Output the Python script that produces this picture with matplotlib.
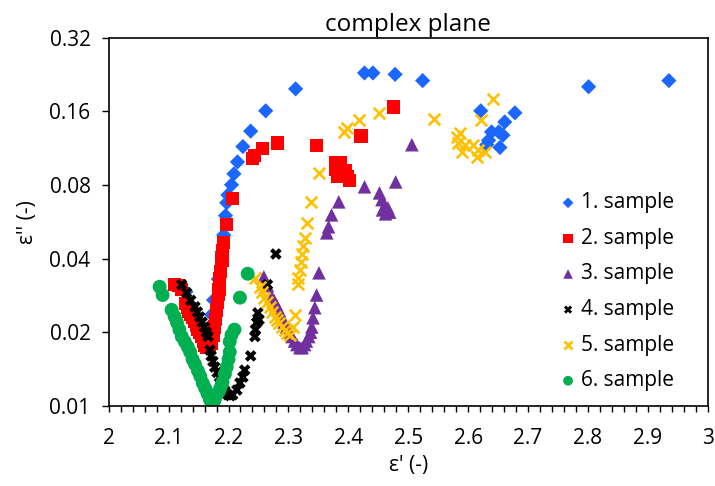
import numpy as np
import matplotlib
matplotlib.use("Agg")
import matplotlib.pyplot as plt
from matplotlib.ticker import MultipleLocator, FixedLocator, FormatStrFormatter

plt.rcParams['font.family'] = ['Open Sans', 'DejaVu Sans']

# eps' / eps'' pairs for each sample
x1 = [2.197, 2.199, 2.205, 2.209, 2.215, 2.224, 2.237, 2.262, 2.312, 2.427, 2.441, 2.478,
      2.524, 2.801, 2.935, 2.621, 2.678, 2.661, 2.651, 2.658, 2.639, 2.634, 2.631, 2.653,
      2.189, 2.175, 2.172, 2.129, 2.183, 2.192, 2.195]
y1 = [0.0677, 0.0729, 0.0802, 0.0889, 0.0995, 0.115, 0.133, 0.161, 0.198, 0.230, 0.230, 0.227,
      0.214, 0.202, 0.214, 0.161, 0.158, 0.145, 0.132, 0.128, 0.132, 0.122, 0.117, 0.114,
      0.0426, 0.0271, 0.0236, 0.0293, 0.033, 0.050, 0.060]

x2 = [2.110, 2.117, 2.122, 2.128, 2.131, 2.134, 2.137, 2.140, 2.143, 2.146, 2.149, 2.152,
      2.155, 2.158, 2.160, 2.164, 2.168, 2.172, 2.174, 2.176, 2.178, 2.180, 2.182, 2.183,
      2.184, 2.185, 2.187, 2.189, 2.190, 2.192, 2.197, 2.207, 2.240, 2.244, 2.257, 2.282,
      2.347, 2.421, 2.476, 2.379, 2.387, 2.379, 2.391, 2.399, 2.402, 2.382, 2.395]
y2 = [0.0313, 0.0310, 0.0300, 0.0262, 0.0252, 0.0244, 0.0236, 0.0229, 0.0222, 0.0214, 0.0206, 0.0199,
      0.0192, 0.0184, 0.0176, 0.0174, 0.0176, 0.0180, 0.0195, 0.0210, 0.0226, 0.0245, 0.0265, 0.0285,
      0.0300, 0.0330, 0.0355, 0.0395, 0.0430, 0.0465, 0.0550, 0.0703, 0.103, 0.106, 0.1125, 0.119,
      0.116, 0.127, 0.167, 0.0985, 0.0985, 0.0923, 0.0905, 0.087, 0.0832, 0.087, 0.092]

x3 = [2.259, 2.265, 2.272, 2.276, 2.280, 2.285, 2.289, 2.293, 2.297, 2.301, 2.306, 2.310,
      2.314, 2.319, 2.323, 2.327, 2.330, 2.334, 2.337, 2.339, 2.341, 2.344, 2.347, 2.351,
      2.364, 2.367, 2.372, 2.384, 2.427, 2.452, 2.456, 2.461, 2.466, 2.457, 2.469, 2.462,
      2.479, 2.506]
y3 = [0.0337, 0.0310, 0.0279, 0.0270, 0.0259, 0.0245, 0.0231, 0.0220, 0.0210, 0.0200, 0.0192, 0.0184,
      0.0178, 0.0173, 0.0173, 0.0178, 0.0184, 0.0192, 0.0200, 0.0210, 0.0229, 0.0252, 0.0284, 0.0350,
      0.0510, 0.0540, 0.0604, 0.0683, 0.0787, 0.0743, 0.0697, 0.0660, 0.0645, 0.0633, 0.0620, 0.0610,
      0.0824, 0.117]

x4 = [2.122, 2.130, 2.137, 2.144, 2.148, 2.152, 2.156, 2.160, 2.163, 2.166, 2.169, 2.171,
      2.174, 2.177, 2.181, 2.185, 2.188, 2.190, 2.194, 2.199, 2.203, 2.207, 2.214, 2.219,
      2.224, 2.227, 2.237, 2.245, 2.244, 2.247, 2.249, 2.251, 2.265, 2.279]
y4 = [0.0313, 0.0290, 0.0270, 0.0254, 0.0242, 0.0231, 0.0220, 0.0210, 0.0200, 0.0192, 0.0169, 0.0160,
      0.0152, 0.0144, 0.0137, 0.0131, 0.0125, 0.0120, 0.0115, 0.0111, 0.0110, 0.0111, 0.0116, 0.0124,
      0.0131, 0.0140, 0.0160, 0.0205, 0.0192, 0.0219, 0.0240, 0.0225, 0.0313, 0.0418]

x5 = [2.244, 2.252, 2.256, 2.260, 2.264, 2.269, 2.273, 2.277, 2.281, 2.285, 2.290, 2.294,
      2.298, 2.302, 2.307, 2.311, 2.316, 2.316, 2.319, 2.321, 2.322, 2.324, 2.327, 2.331,
      2.337, 2.351, 2.392, 2.397, 2.417, 2.451, 2.543, 2.581, 2.586, 2.583, 2.594, 2.589,
      2.608, 2.616, 2.614, 2.628, 2.621, 2.641]
y5 = [0.0334, 0.0307, 0.0292, 0.0277, 0.0265, 0.0254, 0.0242, 0.0231, 0.0225, 0.0219, 0.0211, 0.0205,
      0.0198, 0.0195, 0.0210, 0.0236, 0.0316, 0.0334, 0.0360, 0.0388, 0.0419, 0.0451, 0.0486, 0.0560,
      0.0683, 0.0897, 0.132, 0.137, 0.148, 0.158, 0.149, 0.126, 0.131, 0.119, 0.117, 0.109,
      0.117, 0.111, 0.104, 0.109, 0.147, 0.180]

x6 = [2.085, 2.090, 2.105, 2.110, 2.114, 2.118, 2.122, 2.127, 2.132, 2.136, 2.140, 2.144,
      2.149, 2.153, 2.157, 2.161, 2.165, 2.169, 2.172, 2.175, 2.177, 2.181, 2.185, 2.188,
      2.190, 2.194, 2.197, 2.200, 2.202, 2.202, 2.205, 2.210, 2.219, 2.232]
y6 = [0.0307, 0.0284, 0.0247, 0.0232, 0.0219, 0.0205, 0.0192, 0.0183, 0.0174, 0.0166, 0.0155, 0.0148,
      0.0139, 0.0132, 0.0124, 0.0118, 0.0112, 0.0106, 0.0101, 0.0104, 0.0106, 0.0112, 0.0116, 0.0121,
      0.0125, 0.0135, 0.0144, 0.0155, 0.0166, 0.0183, 0.0195, 0.0205, 0.0277, 0.0347]

labels = ['1. sample', '2. sample', '3. sample', '4. sample', '5. sample', '6. sample']
yticks = [0.01, 0.02, 0.04, 0.08, 0.16, 0.32]

fig = plt.figure(figsize=(7.15, 4.86), dpi=100)
ax = fig.add_axes([0.152, 0.165, 0.838, 0.757])

ax.scatter(x1, y1, marker='D', s=60, color='#1a66ff', edgecolors='none', label=labels[0])
ax.scatter(x2, y2, marker='s', s=90, color='#ff0000', edgecolors='none', label=labels[1])
ax.scatter(x3, y3, marker='^', s=95, color='#7030a0', edgecolors='none', label=labels[2])
ax.scatter(x4, y4, marker='X', s=70, color='black', edgecolors='none', label=labels[3])
ax.scatter(x5, y5, marker='x', s=70, color='#ffc000', linewidths=1.9, label=labels[4])
ax.scatter(x6, y6, marker='o', s=100, color='#00b050', edgecolors='none', label=labels[5])

ax.set_yscale('log', base=2)
ax.set_ylim(0.01, 0.32)
ax.yaxis.set_major_locator(FixedLocator(yticks))
ax.yaxis.set_major_formatter(FormatStrFormatter('%g'))
ax.yaxis.set_minor_locator(FixedLocator([]))

ax.set_xlim(2, 3)
ax.xaxis.set_major_locator(MultipleLocator(0.1))
ax.xaxis.set_minor_locator(MultipleLocator(0.02))
ax.xaxis.set_major_formatter(FormatStrFormatter('%g'))

for s in ax.spines.values():
    s.set_linewidth(1.2)
ax.tick_params(axis='both', which='both', direction='out', width=1.0, labelsize=15, colors='black')
ax.tick_params(axis='x', which='both', length=4)
ax.tick_params(axis='y', which='major', length=5, pad=8)
ax.tick_params(axis='x', which='major', pad=12)

ax.set_title('complex plane', fontsize=17.5, pad=5)
ax.set_xlabel("ε' (-)", fontsize=15, labelpad=4)
ax.set_ylabel("ε'' (-)", fontsize=15, labelpad=8)

ax.legend(loc='center left', bbox_to_anchor=(0.718, 0.31), frameon=False, fontsize=15,
          scatterpoints=1, markerscale=0.7, handletextpad=0.1, labelspacing=0.7,
          handlelength=1.0)

fig.savefig('out.png', dpi=100)
